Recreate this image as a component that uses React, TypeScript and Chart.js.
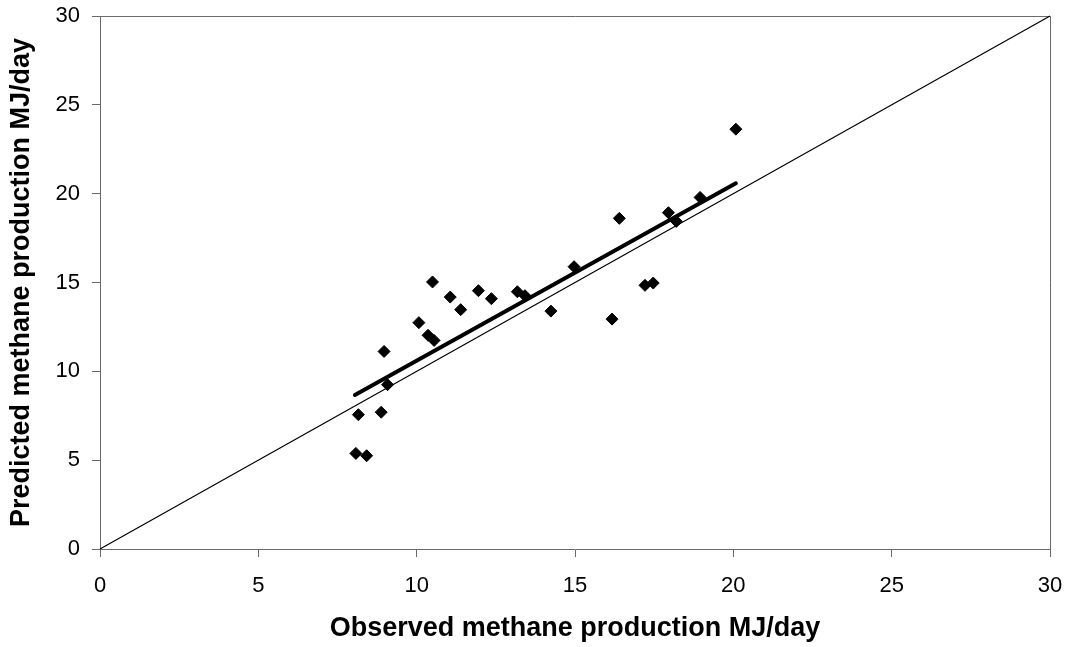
import React, { useEffect, useRef } from 'react';
import { Chart, registerables } from 'chart.js';

Chart.register(...registerables);

// Observed vs. predicted methane production (MJ/day)
const observed = [
  8.08, 8.42, 8.16, 8.88, 8.97, 9.08, 10.07, 10.36, 10.55, 10.5, 11.06, 11.39, 11.95,
  12.36, 13.18, 13.42, 14.24, 14.97, 16.17, 16.4, 17.21, 17.47, 17.95, 18.2, 18.95, 20.08,
];
const predicted = [
  5.38, 5.25, 7.56, 7.7, 11.12, 9.25, 12.74, 12.03, 11.74, 15.03, 14.18, 13.47, 14.54,
  14.09, 14.48, 14.26, 13.39, 15.89, 12.94, 18.61, 14.84, 14.97, 18.93, 18.44, 19.79, 23.63,
];

// Line of equality (y = x)
const identityX = [0, 30];
const identityY = [0, 30];

// Linear trend line through the points
const fitX = [8.05, 20.08];
const fitY = [8.67, 20.58];

const axisTicks = [0, 5, 10, 15, 20, 25, 30];

const xTitle = 'Observed methane production MJ/day';
const yTitle = 'Predicted methane production MJ/day';

const FONT = "'Liberation Sans', Arial, sans-serif";
const frameColor = '#6a6a6a';

const toPoints = (xs: number[], ys: number[]) => xs.map((x, i) => ({ x, y: ys[i] }));

// Draws the top and right edges of the plot frame
const framePlugin = {
  id: 'plotFrame',
  beforeDatasetsDraw(chart: any) {
    const { ctx, chartArea } = chart;
    ctx.save();
    ctx.strokeStyle = frameColor;
    ctx.lineWidth = 1;
    ctx.beginPath();
    ctx.moveTo(chartArea.left, chartArea.top + 0.5);
    ctx.lineTo(chartArea.right + 0.5, chartArea.top + 0.5);
    ctx.lineTo(chartArea.right + 0.5, chartArea.bottom);
    ctx.stroke();
    ctx.restore();
  },
};

// Fixed axis box sizes; label overflow is covered by the layout padding
const fixAxis = (size: { width?: number; height?: number }) => (scale: any) => {
  if (size.width !== undefined) scale.width = size.width;
  if (size.height !== undefined) scale.height = size.height;
  scale.paddingTop = 0;
  scale.paddingRight = 0;
  scale.paddingLeft = 0;
  scale.paddingBottom = 0;
};

export default function App() {
  const canvasRef = useRef<HTMLCanvasElement | null>(null);

  useEffect(() => {
    if (!canvasRef.current) return;
    const setTicks = (scale: any) => {
      scale.ticks = axisTicks.map((v) => ({ value: v }));
    };
    const chart = new Chart(canvasRef.current, {
      type: 'scatter',
      data: {
        datasets: [
          {
            label: 'Equality',
            data: toPoints(identityX, identityY),
            showLine: true,
            borderColor: '#000',
            borderWidth: 1.2,
            pointRadius: 0,
            clip: false,
          } as any,
          {
            label: 'Trend',
            data: toPoints(fitX, fitY),
            showLine: true,
            borderColor: '#000',
            borderWidth: 4,
            borderCapStyle: 'round',
            pointRadius: 0,
            clip: false,
          } as any,
          {
            label: 'Methane',
            data: toPoints(observed, predicted),
            pointStyle: 'rectRot',
            pointRadius: 6,
            backgroundColor: '#000',
            borderColor: '#000',
            borderWidth: 1,
            clip: false,
          } as any,
        ],
      },
      options: {
        animation: false,
        responsive: true,
        maintainAspectRatio: false,
        layout: { padding: { top: 16, right: 19, left: 0, bottom: 0 } },
        plugins: {
          legend: { display: false },
          tooltip: { enabled: false },
        },
        scales: {
          x: {
            type: 'linear',
            min: 0,
            max: 30,
            afterBuildTicks: setTicks,
            afterFit: fixAxis({ height: 98 }),
            grid: {
              drawOnChartArea: false,
              drawTicks: true,
              tickLength: 8,
              color: frameColor,
            },
            border: { display: true, color: frameColor, width: 1 },
            ticks: {
              color: '#000',
              padding: 16,
              maxRotation: 0,
              font: { family: FONT, size: 22 },
            },
            title: {
              display: true,
              text: xTitle,
              color: '#000',
              font: { family: FONT, size: 27, weight: 'bold' },
              padding: { top: 0, bottom: 2 },
            },
          },
          y: {
            type: 'linear',
            min: 0,
            max: 30,
            afterBuildTicks: setTicks,
            afterFit: fixAxis({ width: 100 }),
            grid: {
              drawOnChartArea: false,
              drawTicks: true,
              tickLength: 8,
              color: frameColor,
            },
            border: { display: true, color: frameColor, width: 1 },
            ticks: {
              color: '#000',
              padding: 12,
              font: { family: FONT, size: 22 },
            },
            title: {
              display: true,
              text: yTitle,
              color: '#000',
              font: { family: FONT, size: 27, weight: 'bold' },
              padding: { top: 5, bottom: 0 },
            },
          },
        },
      } as any,
      plugins: [framePlugin],
    });
    return () => chart.destroy();
  }, []);

  return (
    <div
      style={{
        position: 'absolute',
        left: 0,
        top: 0,
        width: 1069,
        height: 647,
        background: '#fff',
      }}
    >
      <canvas ref={canvasRef} />
    </div>
  );
}
